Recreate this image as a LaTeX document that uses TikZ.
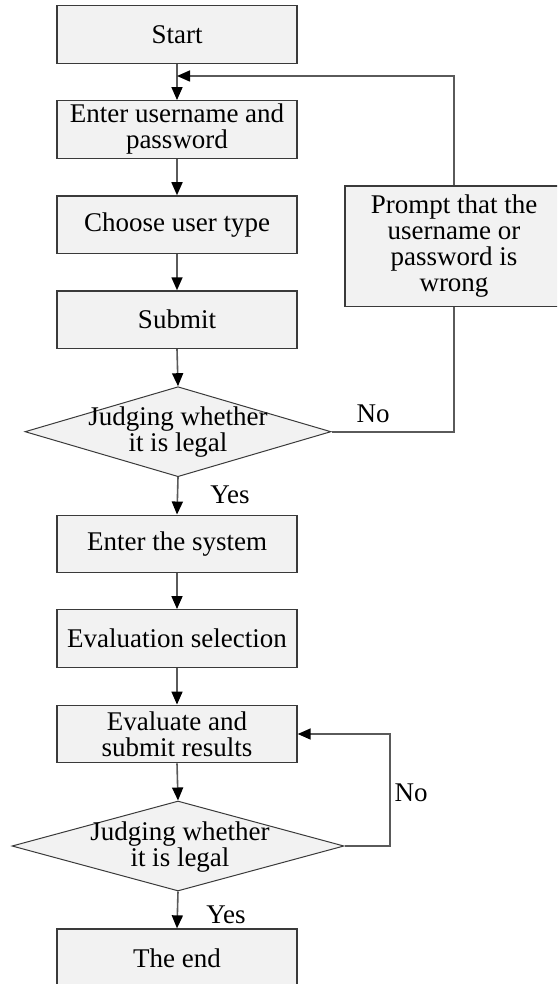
\documentclass[tikz,border=0pt]{standalone}
\usepackage{fontspec}
\setmainfont{Liberation Serif}
\usetikzlibrary{arrows.meta,shapes.geometric}
\definecolor{boxfill}{HTML}{F2F2F2}
\definecolor{edgecol}{HTML}{3A3A3A}
\definecolor{linecol}{HTML}{5A5A5A}
\tikzset{
  stepbox/.style={draw=edgecol, line width=0.7pt, fill=boxfill, minimum width=120pt, minimum height=28.75pt, inner sep=0pt, align=center, font=\fontsize{13.5}{13}\selectfont},
  decbox/.style={draw=edgecol, line width=0.5pt, fill=boxfill, shape=diamond, inner sep=0pt},
  dectext/.style={align=center, font=\fontsize{13.5}{13}\selectfont},
  lbl/.style={font=\fontsize{13.5}{13}\selectfont, inner sep=0pt},
  conn/.style={draw=linecol, line width=0.8pt},
  arr/.style={conn, -{Triangle[length=6.5pt,width=5.5pt,fill=black,color=black]}}
}
\begin{document}
\begin{tikzpicture}[x=0.5pt,y=-0.5pt]
\useasboundingbox (0,0) rectangle (557,984);
\clip (0,0) rectangle (557,984);
\node[stepbox] (start) at (177,34.5) {Start};
\node[stepbox] (enter) at (177,129.5) {Enter username and\\password};
\node[stepbox] (choose) at (177,224.7) {Choose user type};
\node[stepbox] (submit) at (177,319.7) {Submit};
\node[decbox, minimum width=153pt, minimum height=45pt] (d1) at (178,431.7) {};
\node[dectext] (d1t) at (178,432.5) {Judging whether\\it is legal};
\node[stepbox, minimum width=109pt, minimum height=60.35pt] (prompt) at (454,246.3) {Prompt that the\\username or\\password is\\wrong};
\node[stepbox] (system) at (177,544) {Enter the system};
\node[stepbox] (evsel) at (177,638.5) {Evaluation selection};
\node[stepbox] (evsub) at (177,734) {Evaluate and\\submit results};
\node[decbox, minimum width=166pt, minimum height=45pt] (d2) at (178,846) {};
\node[dectext] (d2t) at (180,847) {Judging whether\\it is legal};
\node[stepbox] (theend) at (177,957.8) {The end};

\coordinate (join) at (177,76);
\coordinate (r1) at (454,431.7);
\coordinate (r1t) at (454,76);
\coordinate (r2a) at (390,846);
\coordinate (r2b) at (390,734);

\draw[arr] (start.south) -- (enter.north);
\draw[arr] (enter.south) -- (choose.north);
\draw[arr] (choose.south) -- (submit.north);
\draw[arr] (submit.south) -- (d1.north);
\draw[arr] (d1.south) -- (system.north);
\draw[arr] (system.south) -- (evsel.north);
\draw[arr] (evsel.south) -- (evsub.north);
\draw[arr] (evsub.south) -- (d2.north);
\draw[arr] (d2.south) -- (theend.north);

\draw[conn] (d1.east) -- (r1) -- (prompt.south);
\draw[arr] (prompt.north) -- (r1t) -- (join);
\draw[arr] (d2.east) -- (r2a) -- (r2b) -- (evsub.east);

\node[lbl] (no1) at (373,414) {No};
\node[lbl] (yes1) at (230,495) {Yes};
\node[lbl] (no2) at (411,793) {No};
\node[lbl] (yes2) at (226,915) {Yes};
\end{tikzpicture}
\end{document}
